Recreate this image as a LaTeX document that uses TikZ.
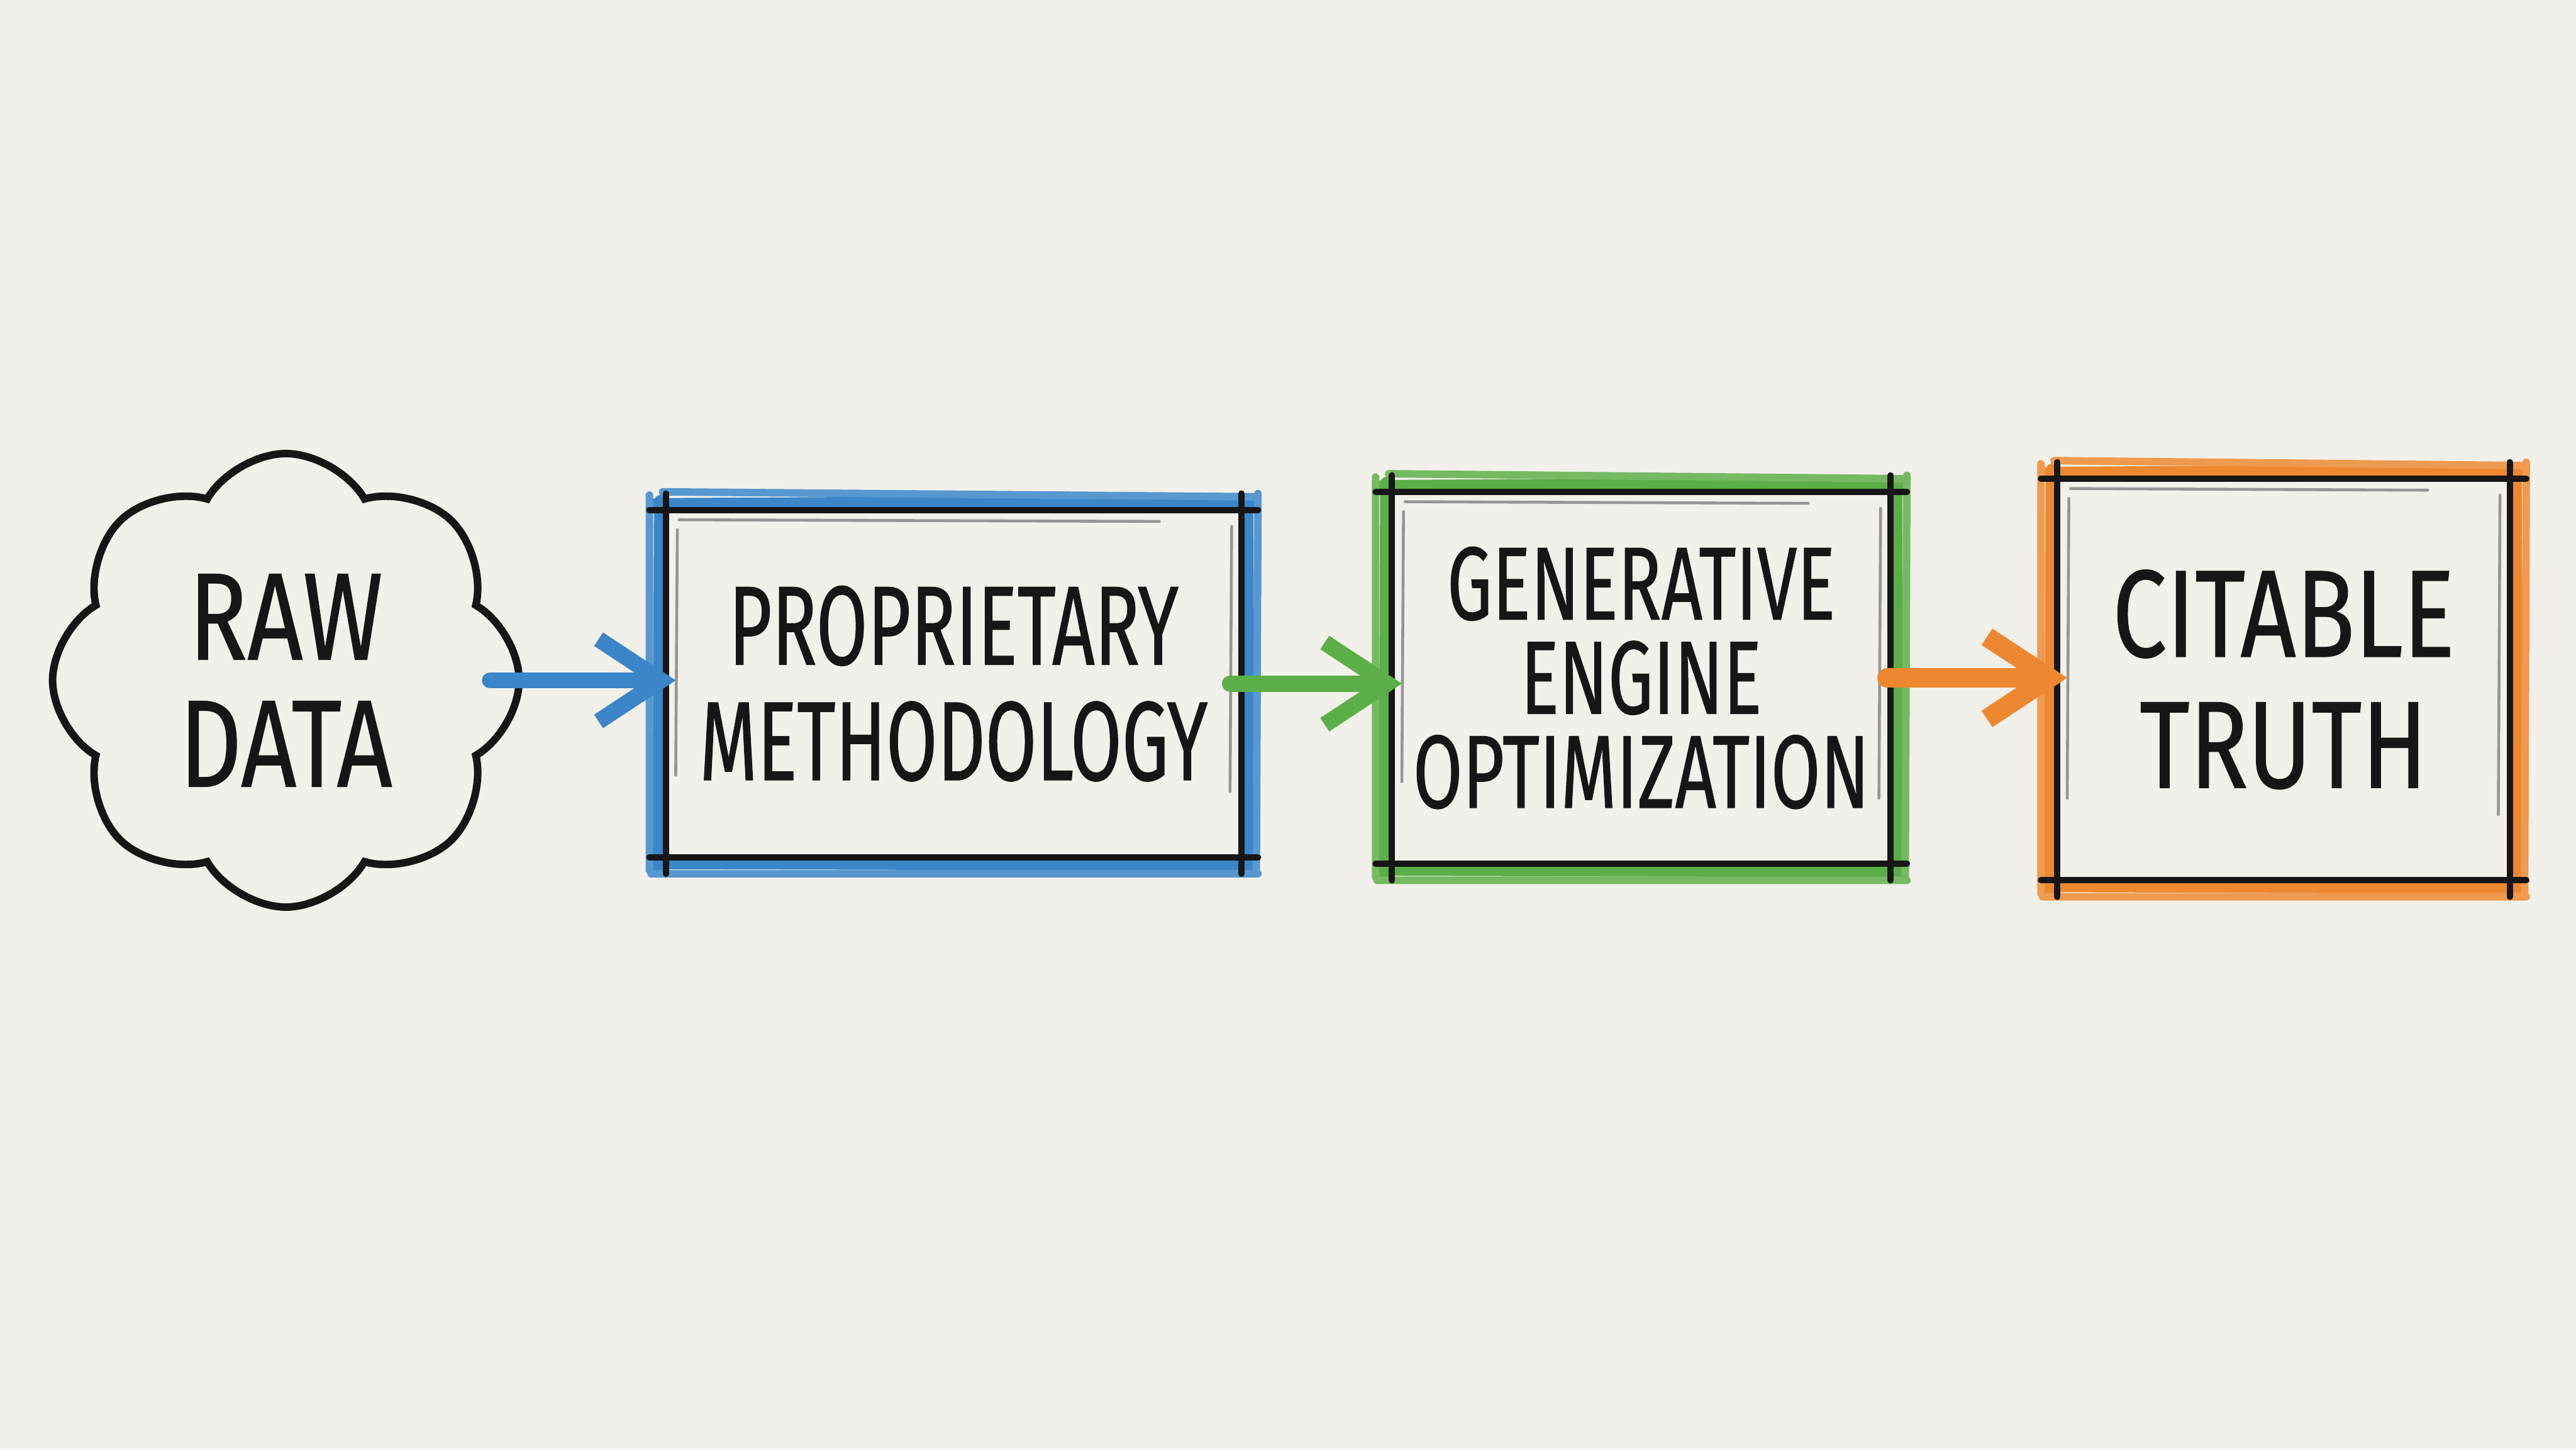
\documentclass[tikz,border=0pt]{standalone}
\usepackage{fontspec}
\setmainfont{Fira Sans}[FakeStretch=0.66, FakeBold=0.6]
\newfontfamily\handwide{Fira Sans}[FakeStretch=0.78, FakeBold=0.6]
\newfontfamily\handgeo{Fira Sans}[FakeStretch=0.69, FakeBold=0.6]
\usetikzlibrary{positioning,shapes.symbols,arrows.meta}

\definecolor{paper}{RGB}{242,240,234}
\definecolor{ink}{RGB}{22,22,22}
\definecolor{penblue}{RGB}{58,134,200}
\definecolor{pengreen}{RGB}{92,174,72}
\definecolor{penorange}{RGB}{238,136,48}

\newcommand{\sketchbox}[2]{%
    \draw[#2, line width=2.4pt, line cap=round]
        ([shift={(-.06,.03)}]#1.north west) -- ([shift={(.05,.05)}]#1.north east)
        ([shift={(.03,.06)}]#1.north east) -- ([shift={(.04,-.05)}]#1.south east)
        ([shift={(.06,-.04)}]#1.south east) -- ([shift={(-.05,-.03)}]#1.south west)
        ([shift={(-.04,-.06)}]#1.south west) -- ([shift={(-.03,.05)}]#1.north west);
    \draw[#2!85, line width=1.3pt, line cap=round]
        ([shift={(-.02,.11)}]#1.north west) -- ([shift={(.1,.08)}]#1.north east)
        ([shift={(.1,.1)}]#1.north east) -- ([shift={(.09,-.09)}]#1.south east)
        ([shift={(.1,-.1)}]#1.south east) -- ([shift={(-.09,-.1)}]#1.south west)
        ([shift={(-.1,-.08)}]#1.south west) -- ([shift={(-.1,.09)}]#1.north west);
    \draw[ink!45, line width=.5pt, line cap=round]
        ([shift={(.08,-.06)}]#1.north west) -- ([shift={(-.5,-.07)}]#1.north east)
        ([shift={(-.06,-.1)}]#1.north east) -- ([shift={(-.07,.4)}]#1.south east)
        ([shift={(.06,.5)}]#1.south west) -- ([shift={(.07,-.12)}]#1.north west);
    \draw[ink, line width=1.1pt, line cap=round]
        ([xshift=-.1cm]#1.north west) -- ([xshift=.1cm]#1.north east)
        ([xshift=-.1cm]#1.south west) -- ([xshift=.1cm]#1.south east)
        ([yshift=.1cm]#1.north west) -- ([yshift=-.1cm]#1.south west)
        ([yshift=.1cm]#1.north east) -- ([yshift=-.1cm]#1.south east);
}

\begin{document}
\begin{tikzpicture}[
    hand/.style={text=ink, align=center, inner sep=0pt},
    frame/.style={hand, rectangle, minimum width=#1},
    flow/.style={line width=2.8pt, line cap=round, shorten >=-.6mm,
        -{Straight Barb[length=3.8mm,width=5mm]}},
]
    \fill[paper] (0,0) rectangle (15.68,8.82);
    \useasboundingbox (0,0) rectangle (15.68,8.82);

    \node[hand, cloud, cloud puffs=8, cloud puff arc=120, aspect=1,
        draw=ink, line width=1.3pt, minimum width=2.84cm, minimum height=2.76cm,
        font=\handwide\fontsize{21.5}{22}\selectfont] (raw) at (1.74,4.68) {RAW\\DATA};

    \node[frame=3.49cm, minimum height=2.10cm,
        font=\fontsize{19.5}{20}\selectfont] (meth) at (5.805,4.66)
        {PROPRIETARY\\METHODOLOGY};
    \node[frame=3.02cm, minimum height=2.25cm,
        font=\handgeo\fontsize{18}{16.3}\selectfont] (geo) at (9.99,4.695)
        {GENERATIVE\\ENGINE\\OPTIMIZATION};
    \node[frame=2.74cm, minimum height=2.43cm,
        font=\handwide\fontsize{21.5}{22.7}\selectfont] (cite) at (13.90,4.685)
        {CITABLE\\TRUTH};

    \sketchbox{meth}{penblue}
    \sketchbox{geo}{pengreen}
    \sketchbox{cite}{penorange}

    \draw[flow, penblue] ([xshift=-2mm]raw.east) -- (raw.east -| meth.west);
    \draw[flow, pengreen] ([xshift=-.7mm]meth.east) -- (meth.east -| geo.west);
    \draw[flow, penorange, line width=3.4pt] ([xshift=-.2mm]geo.east) -- (geo.east -| cite.west);
\end{tikzpicture}
\end{document}
